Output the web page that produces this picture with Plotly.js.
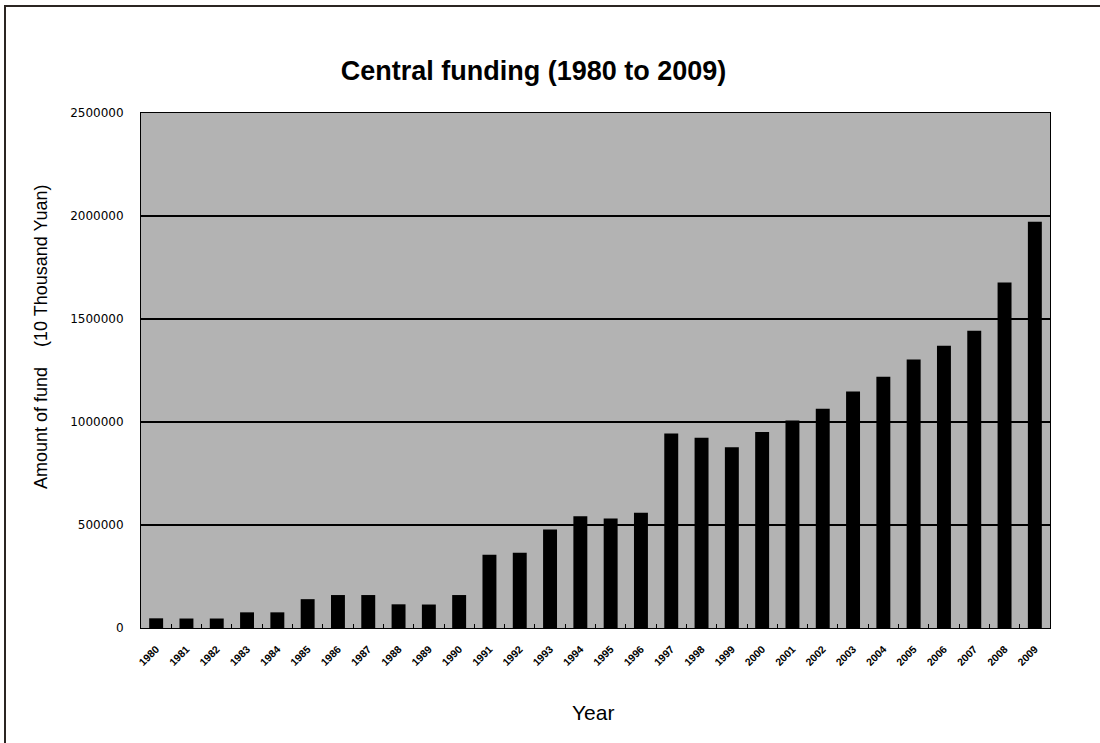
<!DOCTYPE html>
<html>
<head>
<meta charset="utf-8">
<script src="https://cdn.plot.ly/plotly-3.0.1.min.js"></script>
<style>
  html, body { margin: 0; padding: 0; background: #ffffff; }
  #wrap { position: relative; width: 1100px; height: 743px; overflow: hidden; }
  #chart { position: absolute; left: 0; top: 0; width: 1100px; height: 743px; }
  #frameL { position: absolute; left: 4px; top: 5px; width: 2px; height: 740px; background: #2b2522; }
  #frameT { position: absolute; left: 4px; top: 5px; width: 1096px; height: 2px; background: #2b2522; }
</style>
</head>
<body>
<div id="wrap">
  <div id="chart"></div>
  <div id="frameL"></div>
  <div id="frameT"></div>
</div>
<script>
const years = ["1980","1981","1982","1983","1984","1985","1986","1987","1988","1989",
               "1990","1991","1992","1993","1994","1995","1996","1997","1998","1999",
               "2000","2001","2002","2003","2004","2005","2006","2007","2008","2009"];
const funding = [47000, 46000, 46000, 76000, 76000, 140000, 160000, 160000, 115000, 114000,
                 160000, 355000, 365000, 478000, 542000, 531000, 560000, 944000, 923000, 877000,
                 951000, 1007000, 1064000, 1148000, 1220000, 1304000, 1370000, 1443000, 1677000, 1972000];
const yTicks = [0, 500000, 1000000, 1500000, 2000000, 2500000];
const yTickText = ["0", "500000", "1000000", "1500000", "2000000", "2500000"];

const trace = {
  type: "bar",
  x: years,
  y: funding,
  marker: { color: "#000000", line: { width: 0 } },
  hoverinfo: "x+y"
};

const layout = {
  width: 1100,
  height: 743,
  margin: { l: 141, r: 50, t: 113, b: 115 },
  paper_bgcolor: "#ffffff",
  plot_bgcolor: "#b3b3b3",
  bargap: 0.54,
  showlegend: false,
  title: {
    text: "Central funding (1980 to 2009)",
    font: { family: "Arial, Liberation Sans, sans-serif", size: 27, color: "#000000", weight: "bold" },
    x: 0.485, xref: "container", xanchor: "center",
    y: 0.905, yref: "container", yanchor: "middle"
  },
  xaxis: {
    type: "category",
    tickangle: -45,
    tickfont: { family: "Arial, Liberation Sans, sans-serif", size: 10.5, color: "#000000", weight: "bold" },
    ticks: "inside",
    tickson: "boundaries",
    ticklen: 4,
    tickcolor: "#000000",
    ticklabelstandoff: 10,
    showline: true, linecolor: "#000000", linewidth: 1, mirror: true,
    showgrid: false,
    zeroline: false
  },
  yaxis: {
    range: [0, 2500000],
    tickvals: yTicks,
    ticktext: yTickText,
    tickfont: { family: "DejaVu Sans, sans-serif", size: 12, color: "#000000" },
    ticks: "",
    ticklabelstandoff: 14,
    showline: true, linecolor: "#000000", linewidth: 1, mirror: true,
    showgrid: true, gridcolor: "#000000", gridwidth: 1.5,
    zeroline: false
  },
  annotations: [{
    text: "Amount of fund    (10 Thousand Yuan)",
    textangle: -90,
    xref: "paper", yref: "paper",
    x: -0.11, y: 0.565,
    xanchor: "center", yanchor: "middle",
    showarrow: false,
    font: { family: "Arial, Liberation Sans, sans-serif", size: 18, color: "#000000" }
  }, {
    text: "Year",
    xref: "paper", yref: "paper",
    x: 0.497, y: -0.165,
    xanchor: "center", yanchor: "middle",
    showarrow: false,
    font: { family: "Arial, Liberation Sans, sans-serif", size: 21, color: "#000000" }
  }]
};

Plotly.newPlot("chart", [trace], layout, { displayModeBar: false, staticPlot: true });
</script>
</body>
</html>
